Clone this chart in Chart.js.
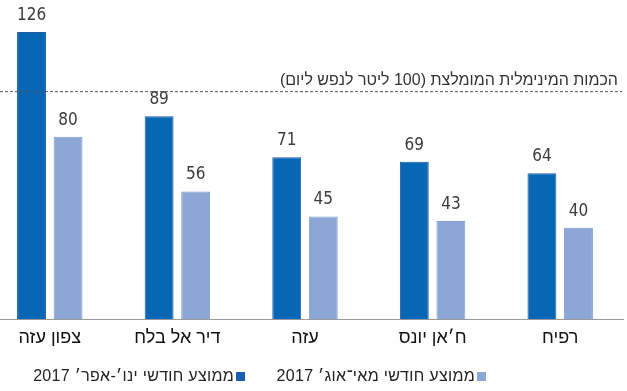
<!DOCTYPE html>
<html lang="he">
<head>
<meta charset="utf-8">
<script src="https://cdn.jsdelivr.net/npm/chart.js@4"></script>
<style>
  html, body { margin: 0; padding: 0; background: #fff; }
  #wrap { position: relative; width: 627px; height: 391px; overflow: hidden; }
  #chart { position: absolute; left: -14px; top: 0; }
  .legend { position: absolute; top: 367px; font-family: "Liberation Sans", sans-serif; font-size: 16px;
            color: #222; direction: rtl; white-space: nowrap; letter-spacing: 0.3px; }
  .legend span.box { display: inline-block; width: 9px; height: 9px; margin-left: 2px; }
</style>
</head>
<body>
<div id="wrap">
  <canvas id="chart" width="638" height="391"></canvas>
  <div class="legend" style="right: 382px;"><span class="box" style="background:#1a5fb4"></span>ממוצע חודשי ינו׳-אפר׳ 2017</div>
  <div class="legend" style="right: 141px;"><span class="box" style="background:#8ca6d6"></span>ממוצע חודשי מאי־אוג׳ 2017</div>
</div>
<script>
// data
const categories = ['צפון עזה', 'דיר אל בלח', 'עזה', 'ח׳אן יונס', 'רפיח'];
const janApr = [126, 89, 71, 69, 64];
const mayAug = [80, 56, 45, 43, 40];
const seriesNames = ['ממוצע חודשי ינו׳-אפר׳ 2017', 'ממוצע חודשי מאי־אוג׳ 2017'];
const threshold = 100;
const thresholdLabel = 'הכמות המינימלית המומלצת (100 ליטר לנפש ליום)';

// value labels above bars
const barValues = {
  id: 'barValues',
  afterDatasetsDraw(chart) {
    const ctx = chart.ctx;
    ctx.save();
    ctx.font = '17px "DejaVu Sans Condensed", "Liberation Sans", sans-serif';
    ctx.fillStyle = '#3a3a3a';
    ctx.textAlign = 'center';
    ctx.textBaseline = 'bottom';
    chart.data.datasets.forEach((ds, i) => {
      chart.getDatasetMeta(i).data.forEach((bar, j) => {
        ctx.fillText(ds.data[j], bar.x, bar.y - 8);
      });
    });
    ctx.restore();
  }
};

// dashed recommended-minimum line
const thresholdLine = {
  id: 'thresholdLine',
  afterDatasetsDraw(chart) {
    const ctx = chart.ctx;
    const y = chart.scales.y.getPixelForValue(threshold);
    ctx.save();
    ctx.strokeStyle = '#555';
    ctx.lineWidth = 1;
    ctx.setLineDash([3, 2]);
    ctx.beginPath();
    ctx.moveTo(14, y + 0.5);
    ctx.lineTo(636, y + 0.5);
    ctx.stroke();
    ctx.font = '16px "Liberation Sans", sans-serif';
    ctx.fillStyle = '#333';
    ctx.direction = 'rtl';
    ctx.textAlign = 'right';
    ctx.textBaseline = 'bottom';
    ctx.fillText(thresholdLabel, 632, y - 3);
    ctx.restore();
  }
};

new Chart(document.getElementById('chart'), {
  type: 'bar',
  data: {
    labels: categories,
    datasets: [{
      label: seriesNames[0],
      data: janApr,
      backgroundColor: '#0767b4',
      borderColor: '#1f5ea8',
      borderWidth: 1,
      categoryPercentage: 0.573,
      barPercentage: 0.79
    }, {
      label: seriesNames[1],
      data: mayAug,
      backgroundColor: '#8ca6d6',
      borderColor: '#7f9dd0',
      borderWidth: 1,
      categoryPercentage: 0.573,
      barPercentage: 0.79
    }]
  },
  options: {
    responsive: false,
    animation: false,
    layout: { padding: { top: 0, bottom: 42, left: 0, right: 0 } },
    plugins: {
      legend: { display: false },
      tooltip: { enabled: false }
    },
    scales: {
      x: {
        grid: { display: false, drawTicks: false },
        border: { color: '#999', width: 1 },
        ticks: { color: '#111', font: { size: 18, family: '"Liberation Sans", sans-serif' }, padding: 8 },
        afterFit(axis) { axis.height = 30; }
      },
      y: {
        display: false,
        min: 0,
        max: 140
      }
    }
  },
  plugins: [barValues, thresholdLine]
});
</script>
</body>
</html>
